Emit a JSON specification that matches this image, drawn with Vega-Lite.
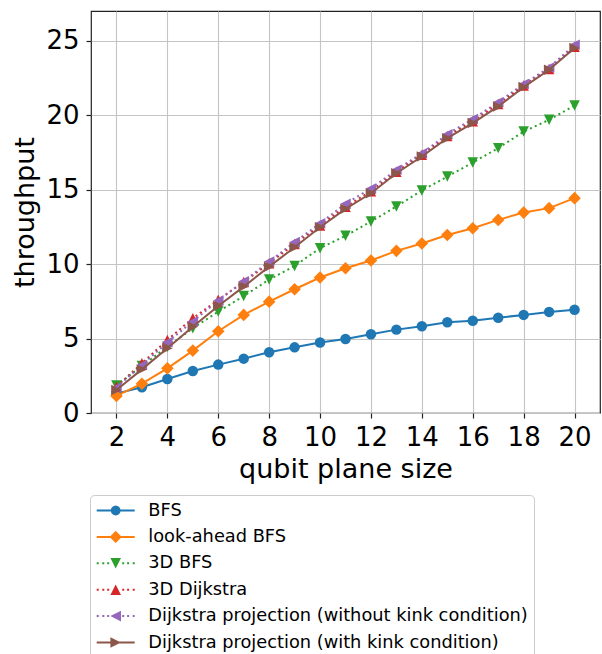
{
  "$schema": "https://vega.github.io/schema/vega-lite/v6.json",
  "width": 509,
  "height": 402,
  "autosize": {"type": "none"},
  "padding": {"left": 91, "top": 11, "right": 2, "bottom": 241},
  "background": "white",
  "config": {
    "font": "DejaVu Sans",
    "view": {"stroke": "#222222", "strokeWidth": 1.2},
    "axis": {
      "domain": false,
      "grid": true,
      "gridColor": "#c4c4c4",
      "gridWidth": 1.1,
      "tickColor": "#222222",
      "tickSize": 5,
      "tickWidth": 1.2,
      "labelFont": "DejaVu Sans",
      "labelFontSize": 26,
      "labelColor": "#000000",
      "labelFlush": false,
      "labelOverlap": false,
      "titleFont": "DejaVu Sans",
      "titleFontSize": 27,
      "titleFontWeight": "normal",
      "titleColor": "#000000"
    }
  },
  "data": {
    "values": [
      {"algorithm": "BFS", "size": 2, "throughput": 1.3},
      {"algorithm": "BFS", "size": 3, "throughput": 1.73},
      {"algorithm": "BFS", "size": 4, "throughput": 2.28},
      {"algorithm": "BFS", "size": 5, "throughput": 2.82},
      {"algorithm": "BFS", "size": 6, "throughput": 3.25},
      {"algorithm": "BFS", "size": 7, "throughput": 3.65},
      {"algorithm": "BFS", "size": 8, "throughput": 4.08},
      {"algorithm": "BFS", "size": 9, "throughput": 4.41},
      {"algorithm": "BFS", "size": 10, "throughput": 4.73},
      {"algorithm": "BFS", "size": 11, "throughput": 4.97},
      {"algorithm": "BFS", "size": 12, "throughput": 5.29},
      {"algorithm": "BFS", "size": 13, "throughput": 5.6},
      {"algorithm": "BFS", "size": 14, "throughput": 5.83},
      {"algorithm": "BFS", "size": 15, "throughput": 6.1},
      {"algorithm": "BFS", "size": 16, "throughput": 6.2},
      {"algorithm": "BFS", "size": 17, "throughput": 6.4},
      {"algorithm": "BFS", "size": 18, "throughput": 6.59},
      {"algorithm": "BFS", "size": 19, "throughput": 6.79},
      {"algorithm": "BFS", "size": 20, "throughput": 6.94},
      {"algorithm": "look-ahead BFS", "size": 2, "throughput": 1.15},
      {"algorithm": "look-ahead BFS", "size": 3, "throughput": 1.97},
      {"algorithm": "look-ahead BFS", "size": 4, "throughput": 3.0},
      {"algorithm": "look-ahead BFS", "size": 5, "throughput": 4.19},
      {"algorithm": "look-ahead BFS", "size": 6, "throughput": 5.49},
      {"algorithm": "look-ahead BFS", "size": 7, "throughput": 6.59},
      {"algorithm": "look-ahead BFS", "size": 8, "throughput": 7.48},
      {"algorithm": "look-ahead BFS", "size": 9, "throughput": 8.31},
      {"algorithm": "look-ahead BFS", "size": 10, "throughput": 9.1},
      {"algorithm": "look-ahead BFS", "size": 11, "throughput": 9.72},
      {"algorithm": "look-ahead BFS", "size": 12, "throughput": 10.24},
      {"algorithm": "look-ahead BFS", "size": 13, "throughput": 10.89},
      {"algorithm": "look-ahead BFS", "size": 14, "throughput": 11.38},
      {"algorithm": "look-ahead BFS", "size": 15, "throughput": 11.96},
      {"algorithm": "look-ahead BFS", "size": 16, "throughput": 12.41},
      {"algorithm": "look-ahead BFS", "size": 17, "throughput": 12.97},
      {"algorithm": "look-ahead BFS", "size": 18, "throughput": 13.46},
      {"algorithm": "look-ahead BFS", "size": 19, "throughput": 13.76},
      {"algorithm": "look-ahead BFS", "size": 20, "throughput": 14.43},
      {"algorithm": "3D BFS", "size": 2, "throughput": 1.85},
      {"algorithm": "3D BFS", "size": 3, "throughput": 3.15},
      {"algorithm": "3D BFS", "size": 4, "throughput": 4.45},
      {"algorithm": "3D BFS", "size": 5, "throughput": 5.69},
      {"algorithm": "3D BFS", "size": 6, "throughput": 6.81},
      {"algorithm": "3D BFS", "size": 7, "throughput": 7.86},
      {"algorithm": "3D BFS", "size": 8, "throughput": 8.96},
      {"algorithm": "3D BFS", "size": 9, "throughput": 9.88},
      {"algorithm": "3D BFS", "size": 10, "throughput": 11.07},
      {"algorithm": "3D BFS", "size": 11, "throughput": 11.9},
      {"algorithm": "3D BFS", "size": 12, "throughput": 12.86},
      {"algorithm": "3D BFS", "size": 13, "throughput": 13.87},
      {"algorithm": "3D BFS", "size": 14, "throughput": 14.94},
      {"algorithm": "3D BFS", "size": 15, "throughput": 15.88},
      {"algorithm": "3D BFS", "size": 16, "throughput": 16.82},
      {"algorithm": "3D BFS", "size": 17, "throughput": 17.79},
      {"algorithm": "3D BFS", "size": 18, "throughput": 18.9},
      {"algorithm": "3D BFS", "size": 19, "throughput": 19.69},
      {"algorithm": "3D BFS", "size": 20, "throughput": 20.65},
      {"algorithm": "3D Dijkstra", "size": 2, "throughput": 1.77},
      {"algorithm": "3D Dijkstra", "size": 3, "throughput": 3.34},
      {"algorithm": "3D Dijkstra", "size": 4, "throughput": 4.9},
      {"algorithm": "3D Dijkstra", "size": 5, "throughput": 6.36},
      {"algorithm": "3D Dijkstra", "size": 6, "throughput": 7.6},
      {"algorithm": "3D Dijkstra", "size": 7, "throughput": 8.8},
      {"algorithm": "3D Dijkstra", "size": 8, "throughput": 10.05},
      {"algorithm": "3D Dijkstra", "size": 9, "throughput": 11.35},
      {"algorithm": "3D Dijkstra", "size": 10, "throughput": 12.6},
      {"algorithm": "3D Dijkstra", "size": 11, "throughput": 13.85},
      {"algorithm": "3D Dijkstra", "size": 12, "throughput": 14.9},
      {"algorithm": "3D Dijkstra", "size": 13, "throughput": 16.2},
      {"algorithm": "3D Dijkstra", "size": 14, "throughput": 17.35},
      {"algorithm": "3D Dijkstra", "size": 15, "throughput": 18.6},
      {"algorithm": "3D Dijkstra", "size": 16, "throughput": 19.6},
      {"algorithm": "3D Dijkstra", "size": 17, "throughput": 20.75},
      {"algorithm": "3D Dijkstra", "size": 18, "throughput": 22.0},
      {"algorithm": "3D Dijkstra", "size": 19, "throughput": 23.1},
      {"algorithm": "3D Dijkstra", "size": 20, "throughput": 24.6},
      {"algorithm": "Dijkstra projection (without kink condition)", "size": 2, "throughput": 1.72},
      {"algorithm": "Dijkstra projection (without kink condition)", "size": 3, "throughput": 3.22},
      {"algorithm": "Dijkstra projection (without kink condition)", "size": 4, "throughput": 4.75},
      {"algorithm": "Dijkstra projection (without kink condition)", "size": 5, "throughput": 6.15},
      {"algorithm": "Dijkstra projection (without kink condition)", "size": 6, "throughput": 7.55},
      {"algorithm": "Dijkstra projection (without kink condition)", "size": 7, "throughput": 8.85},
      {"algorithm": "Dijkstra projection (without kink condition)", "size": 8, "throughput": 10.17},
      {"algorithm": "Dijkstra projection (without kink condition)", "size": 9, "throughput": 11.48},
      {"algorithm": "Dijkstra projection (without kink condition)", "size": 10, "throughput": 12.74},
      {"algorithm": "Dijkstra projection (without kink condition)", "size": 11, "throughput": 14.05},
      {"algorithm": "Dijkstra projection (without kink condition)", "size": 12, "throughput": 15.08},
      {"algorithm": "Dijkstra projection (without kink condition)", "size": 13, "throughput": 16.33},
      {"algorithm": "Dijkstra projection (without kink condition)", "size": 14, "throughput": 17.45},
      {"algorithm": "Dijkstra projection (without kink condition)", "size": 15, "throughput": 18.72},
      {"algorithm": "Dijkstra projection (without kink condition)", "size": 16, "throughput": 19.75},
      {"algorithm": "Dijkstra projection (without kink condition)", "size": 17, "throughput": 20.88},
      {"algorithm": "Dijkstra projection (without kink condition)", "size": 18, "throughput": 22.1},
      {"algorithm": "Dijkstra projection (without kink condition)", "size": 19, "throughput": 23.2},
      {"algorithm": "Dijkstra projection (without kink condition)", "size": 20, "throughput": 24.73},
      {"algorithm": "Dijkstra projection (with kink condition)", "size": 2, "throughput": 1.55},
      {"algorithm": "Dijkstra projection (with kink condition)", "size": 3, "throughput": 2.93},
      {"algorithm": "Dijkstra projection (with kink condition)", "size": 4, "throughput": 4.35},
      {"algorithm": "Dijkstra projection (with kink condition)", "size": 5, "throughput": 5.8},
      {"algorithm": "Dijkstra projection (with kink condition)", "size": 6, "throughput": 7.19},
      {"algorithm": "Dijkstra projection (with kink condition)", "size": 7, "throughput": 8.49},
      {"algorithm": "Dijkstra projection (with kink condition)", "size": 8, "throughput": 9.83},
      {"algorithm": "Dijkstra projection (with kink condition)", "size": 9, "throughput": 11.13},
      {"algorithm": "Dijkstra projection (with kink condition)", "size": 10, "throughput": 12.48},
      {"algorithm": "Dijkstra projection (with kink condition)", "size": 11, "throughput": 13.71},
      {"algorithm": "Dijkstra projection (with kink condition)", "size": 12, "throughput": 14.76},
      {"algorithm": "Dijkstra projection (with kink condition)", "size": 13, "throughput": 16.1},
      {"algorithm": "Dijkstra projection (with kink condition)", "size": 14, "throughput": 17.23},
      {"algorithm": "Dijkstra projection (with kink condition)", "size": 15, "throughput": 18.46},
      {"algorithm": "Dijkstra projection (with kink condition)", "size": 16, "throughput": 19.47},
      {"algorithm": "Dijkstra projection (with kink condition)", "size": 17, "throughput": 20.59},
      {"algorithm": "Dijkstra projection (with kink condition)", "size": 18, "throughput": 21.89},
      {"algorithm": "Dijkstra projection (with kink condition)", "size": 19, "throughput": 23.05},
      {"algorithm": "Dijkstra projection (with kink condition)", "size": 20, "throughput": 24.51}
    ]
  },
  "encoding": {
    "x": {
      "field": "size",
      "type": "quantitative",
      "scale": {"domain": [1, 21], "nice": false, "zero": false},
      "axis": {"title": "qubit plane size", "values": [2, 4, 6, 8, 10, 12, 14, 16, 18, 20], "labelPadding": 6, "titlePadding": 6}
    },
    "y": {
      "field": "throughput",
      "type": "quantitative",
      "scale": {"domain": [0, 27], "nice": false, "zero": false},
      "axis": {"title": "throughput", "values": [0, 5, 10, 15, 20, 25], "labelPadding": 7, "titlePadding": 6}
    },
    "color": {
      "field": "algorithm",
      "type": "nominal",
      "scale": {
        "domain": ["BFS", "look-ahead BFS", "3D BFS", "3D Dijkstra", "Dijkstra projection (without kink condition)", "Dijkstra projection (with kink condition)"],
        "range": ["#1f77b4", "#ff7f0e", "#2ca02c", "#d62728", "#9467bd", "#8c564b"]
      },
      "legend": {
        "title": null,
        "orient": "none",
        "legendX": -1,
        "legendY": 484,
        "padding": 6,
        "strokeColor": "#cccccc",
        "fillColor": "white",
        "cornerRadius": 4,
        "labelFont": "DejaVu Sans",
        "labelFontSize": 17.8,
        "labelColor": "#000000",
        "labelLimit": 600,
        "labelOffset": 33.3,
        "symbolSize": 361,
        "symbolOffset": 0,
        "symbolStrokeWidth": 0,
        "rowPadding": 7.4,
        "encode": {
          "symbols": {
            "update": {
              "shape": {"signal": "datum.value === 'BFS' ? 'M-0.926,-0.105H3.074V0.105H-0.926Z M1.6,0L1.529,0.263L1.337,0.456L1.074,0.526L0.811,0.456L0.618,0.263L0.547,0L0.618,-0.263L0.811,-0.456L1.074,-0.526L1.337,-0.456L1.529,-0.263Z' : datum.value === 'look-ahead BFS' ? 'M-0.926,-0.105H3.074V0.105H-0.926Z M1.074,-0.647L1.721,0L1.074,0.647L0.426,0Z' : datum.value === '3D BFS' ? 'M-0.926,-0.105H-0.716V0.105H-0.926Z M-0.337,-0.105H-0.126V0.105H-0.337Z M0.179,-0.105H0.389V0.105H0.179Z M1.758,-0.105H1.968V0.105H1.758Z M2.274,-0.105H2.484V0.105H2.274Z M2.863,-0.105H3.074V0.105H2.863Z M0.516,-0.558L1.632,-0.558L1.074,0.558Z' : datum.value === '3D Dijkstra' ? 'M-0.926,-0.105H-0.716V0.105H-0.926Z M-0.337,-0.105H-0.126V0.105H-0.337Z M0.179,-0.105H0.389V0.105H0.179Z M1.758,-0.105H1.968V0.105H1.758Z M2.274,-0.105H2.484V0.105H2.274Z M2.863,-0.105H3.074V0.105H2.863Z M0.516,0.558L1.074,-0.558L1.632,0.558Z' : datum.value === 'Dijkstra projection (without kink condition)' ? 'M-0.926,-0.105H-0.716V0.105H-0.926Z M-0.337,-0.105H-0.126V0.105H-0.337Z M0.179,-0.105H0.389V0.105H0.179Z M1.758,-0.105H1.968V0.105H1.758Z M2.274,-0.105H2.484V0.105H2.274Z M2.863,-0.105H3.074V0.105H2.863Z M1.632,-0.558L1.632,0.558L0.516,0Z' : 'M-0.926,-0.105H3.074V0.105H-0.926Z M0.516,-0.558L1.632,0L0.516,0.558Z'"},
              "fill": {"scale": "color", "field": "value"},
              "stroke": {"value": "transparent"},
              "strokeWidth": {"value": 0},
              "opacity": {"value": 1},
              "size": {"value": 361}
            }
          }
        }
      }
    }
  },
  "layer": [
    {"transform": [{"filter": {"field": "algorithm", "equal": "BFS"}}], "mark": {"type": "line", "strokeWidth": 2}, "encoding": {}},
    {"transform": [{"filter": {"field": "algorithm", "equal": "BFS"}}], "mark": {"type": "point", "filled": true, "opacity": 1, "size": 110, "shape": "circle"}},
    {"transform": [{"filter": {"field": "algorithm", "equal": "look-ahead BFS"}}], "mark": {"type": "line", "strokeWidth": 2}, "encoding": {}},
    {"transform": [{"filter": {"field": "algorithm", "equal": "look-ahead BFS"}}], "mark": {"type": "point", "filled": true, "opacity": 1, "size": 110, "shape": "M0,-1.2L1.2,0L0,1.2L-1.2,0Z"}},
    {"transform": [{"filter": {"field": "algorithm", "equal": "3D BFS"}}], "mark": {"type": "line", "strokeWidth": 2, "strokeDash": [2, 3.3]}, "encoding": {}},
    {"transform": [{"filter": {"field": "algorithm", "equal": "3D BFS"}}], "mark": {"type": "point", "filled": true, "opacity": 1, "size": 110, "shape": "M-1,-1L1,-1L0,1Z"}},
    {"transform": [{"filter": {"field": "algorithm", "equal": "3D Dijkstra"}}], "mark": {"type": "line", "strokeWidth": 2, "strokeDash": [2, 3.3]}, "encoding": {}},
    {"transform": [{"filter": {"field": "algorithm", "equal": "3D Dijkstra"}}], "mark": {"type": "point", "filled": true, "opacity": 1, "size": 110, "shape": "M-1,1L0,-1L1,1Z"}},
    {"transform": [{"filter": {"field": "algorithm", "equal": "Dijkstra projection (without kink condition)"}}], "mark": {"type": "line", "strokeWidth": 2, "strokeDash": [2, 3.3]}, "encoding": {}},
    {"transform": [{"filter": {"field": "algorithm", "equal": "Dijkstra projection (without kink condition)"}}], "mark": {"type": "point", "filled": true, "opacity": 1, "size": 110, "shape": "M1,-1L1,1L-1,0Z"}},
    {"transform": [{"filter": {"field": "algorithm", "equal": "Dijkstra projection (with kink condition)"}}], "mark": {"type": "line", "strokeWidth": 2}, "encoding": {}},
    {"transform": [{"filter": {"field": "algorithm", "equal": "Dijkstra projection (with kink condition)"}}], "mark": {"type": "point", "filled": true, "opacity": 1, "size": 110, "shape": "M-1,-1L1,0L-1,1Z"}}
  ]
}
